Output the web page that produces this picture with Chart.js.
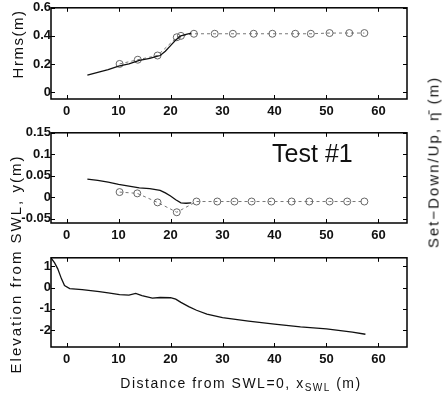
<!DOCTYPE html>
<html>
<head>
<meta charset="utf-8">
<script src="https://cdn.jsdelivr.net/npm/chart.js@4/dist/chart.umd.min.js"></script>
<style>
  body { margin: 0; background: #fff; }
  #wrap { position: relative; width: 446px; height: 395px; font-family: "Liberation Sans", Arial, sans-serif; color: #111; }
  canvas { position: absolute; left: 0; }
  .lbl { position: absolute; white-space: nowrap; transform: translate(-50%, -50%) rotate(-90deg); }
  #xTitle { position: absolute; white-space: nowrap; transform: translate(-50%, -50%); }
  #xTitle sub { font-size: 10px; vertical-align: -3px; }
</style>
</head>
<body>
<div id="wrap">
  <canvas id="hrmsChart" width="446" height="125" style="top:0"></canvas>
  <canvas id="setupChart" width="446" height="125" style="top:125px"></canvas>
  <canvas id="bedChart" width="446" height="145" style="top:250px"></canvas>
  <div class="lbl" style="left:17px; top:44px; font-size:15px; letter-spacing:1.5px">Hrms(m)</div>
  <div class="lbl" style="left:15px; top:264px; font-size:15px; letter-spacing:2px">Elevation from SWL, y(m)</div>
  <div class="lbl" style="left:433px; top:162px; font-size:15px; letter-spacing:2px">Set−Down/Up, η̄ (m)</div>
  <div id="xTitle" style="left:241px; top:384px; font-size:14px; letter-spacing:1.5px">Distance from SWL=0, x<sub>SWL</sub> (m)</div>
</div>
<script>
// x positions (m from SWL=0)
const xTicks = [0, 10, 20, 30, 40, 50, 60];

// wave height, model + measured
const hrmsModelX = [4, 6, 8, 10, 12, 14, 16, 17, 18, 19, 20, 21, 22, 23, 24];
const hrmsModel = [0.12, 0.14, 0.16, 0.185, 0.2, 0.225, 0.24, 0.25, 0.26, 0.29, 0.33, 0.37, 0.4, 0.41, 0.42];
const hrmsMeasX = [10.2, 13.7, 17.5, 21.2, 22, 24.5, 28.5, 32, 36, 39.6, 44, 47, 50.6, 54.4, 57.3];
const hrmsMeas = [0.2, 0.23, 0.26, 0.39, 0.4, 0.415, 0.415, 0.415, 0.415, 0.415, 0.415, 0.415, 0.42, 0.42, 0.42];
const hrmsTicks = [0, 0.2, 0.4, 0.6];

// set-down / set-up
const etaModelX = [4, 6, 8, 10, 12, 14, 16, 18, 19, 20, 21, 22, 23, 24];
const etaModel = [0.042, 0.039, 0.035, 0.03, 0.026, 0.022, 0.02, 0.016, 0.01, 0.003, -0.006, -0.013, -0.014, -0.013];
const etaMeasX = [10.2, 13.6, 17.5, 21.2, 25, 29, 32.3, 35.6, 39.4, 43.3, 46.7, 50.6, 54, 57.3];
const etaMeas = [0.012, 0.009, -0.012, -0.035, -0.01, -0.01, -0.01, -0.01, -0.01, -0.01, -0.01, -0.01, -0.01, -0.01];
const etaTicks = [-0.05, 0, 0.05, 0.1, 0.15];

// bottom profile
const bedX = [-3, -2.3, -1.7, -1, -0.4, 0.6, 3, 6.3, 8, 10.2, 12, 13.3, 14.5, 16.5, 18, 20, 21, 22, 23.5, 25, 27, 30, 35, 40, 45, 50, 55, 57.5];
const bed = [1.4, 1.16, 0.88, 0.42, 0.09, -0.05, -0.1, -0.19, -0.25, -0.33, -0.36, -0.28, -0.38, -0.5, -0.47, -0.48, -0.55, -0.7, -0.9, -1.07, -1.25, -1.42, -1.58, -1.72, -1.85, -1.95, -2.1, -2.2];
const bedTicks = [-2, -1, 0, 1];

function pts(xs, ys) {
  return xs.map((x, i) => ({ x, y: ys[i] }));
}

const frameTicks = {
  id: "frameTicks",
  afterDatasetsDraw(chart) {
    const { ctx, chartArea: a, scales } = chart;
    ctx.save();
    ctx.strokeStyle = "#000";
    ctx.lineWidth = 1;
    ctx.beginPath();
    scales.x.ticks.forEach((t) => {
      const px = Math.round(scales.x.getPixelForValue(t.value)) + 0.5;
      ctx.moveTo(px, a.bottom); ctx.lineTo(px, a.bottom - 4);
      ctx.moveTo(px, a.top); ctx.lineTo(px, a.top + 4);
    });
    scales.y.ticks.forEach((t) => {
      const py = Math.round(scales.y.getPixelForValue(t.value)) + 0.5;
      ctx.moveTo(a.left, py); ctx.lineTo(a.left + 4, py);
      ctx.moveTo(a.right, py); ctx.lineTo(a.right - 4, py);
    });
    ctx.stroke();
    ctx.lineWidth = 1.5;
    ctx.strokeRect(a.left, a.top, a.right - a.left, a.bottom - a.top);
    const note = chart.options.plugins.note;
    if (note && note.text) {
      ctx.fillStyle = "#111";
      ctx.font = '25px "Liberation Sans", Arial, sans-serif';
      ctx.textAlign = "center";
      ctx.textBaseline = "middle";
      ctx.fillText(note.text, scales.x.getPixelForValue(note.x), scales.y.getPixelForValue(note.y));
    }
    ctx.restore();
  },
};

function modelSet(data) {
  return { data, borderColor: "#111", borderWidth: 1.3, pointRadius: 0, tension: 0 };
}

function measSet(data) {
  return {
    data,
    borderColor: "#777",
    borderWidth: 1,
    borderDash: [3, 3],
    pointRadius: 3.5,
    pointBorderColor: "#666",
    pointBackgroundColor: "rgba(0,0,0,0)",
    pointBorderWidth: 1,
    tension: 0,
  };
}

function makePanel(id, datasets, yMin, yMax, yTicks, xAxisHeight, note) {
  const tickFont = { family: '"Liberation Sans", Arial, sans-serif', size: 13, weight: "bold" };
  return new Chart(document.getElementById(id), {
    type: "line",
    data: { datasets },
    options: {
      responsive: false,
      animation: false,
      layout: { padding: { top: 7, right: 39, left: 0, bottom: 0 } },
      plugins: { legend: { display: false }, tooltip: { enabled: false }, note },
      scales: {
        x: {
          type: "linear",
          min: -3,
          max: 65.5,
          grid: { display: false, drawTicks: false },
          border: { display: false },
          afterBuildTicks: (s) => { s.ticks = xTicks.map((v) => ({ value: v })); },
          afterFit: (s) => { s.height = xAxisHeight; },
          ticks: { color: "#111", font: tickFont, padding: 5, maxRotation: 0 },
        },
        y: {
          min: yMin,
          max: yMax,
          grid: { display: false, drawTicks: false },
          border: { display: false },
          afterBuildTicks: (s) => { s.ticks = yTicks.map((v) => ({ value: v })); },
          afterFit: (s) => { s.width = 51; },
          ticks: { color: "#111", font: tickFont, padding: 0, callback: (v) => String(+v.toFixed(3)) },
        },
      },
    },
    plugins: [frameTicks],
  });
}

makePanel("hrmsChart", [modelSet(pts(hrmsModelX, hrmsModel)), measSet(pts(hrmsMeasX, hrmsMeas))], -0.05, 0.6, hrmsTicks, 26);
makePanel("setupChart", [modelSet(pts(etaModelX, etaModel)), measSet(pts(etaMeasX, etaMeas))], -0.06, 0.15, etaTicks, 27,
  { text: "Test #1", x: 47.3, y: 0.097 });
makePanel("bedChart", [modelSet(pts(bedX, bed))], -2.8, 1.4, bedTicks, 48);
</script>
</body>
</html>
